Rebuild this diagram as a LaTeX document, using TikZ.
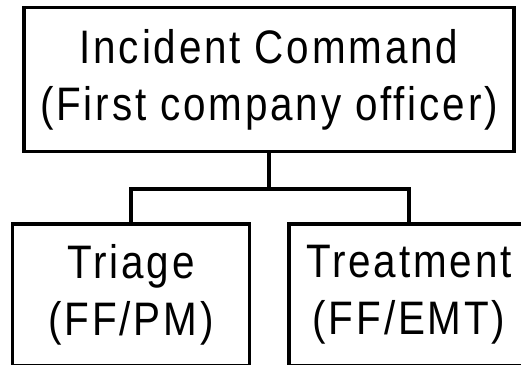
\documentclass[tikz,border=0pt]{standalone}
\usepackage{fontspec}
\setmainfont{Liberation Sans}[FakeStretch=0.86,LetterSpace=6]
\begin{document}
\begin{tikzpicture}[x=1pt,y=-1pt,
    unit/.style={draw=black,line width=3.5pt,align=center,inner sep=0pt,
      font=\fontsize{47}{57}\selectfont},
    link/.style={line width=4pt}]
  \useasboundingbox (0,0) rectangle (521,364);
  \clip (0,0) rectangle (521,364);
  \node[unit,minimum width=490pt,minimum height=144pt] (cmd) at (269,79.5)
    {Incident Command\\(First company officer)};
  \node[unit,minimum width=237pt,minimum height=142pt] (triage) at (131,295)
    {Triage\\(FF/PM)};
  \node[unit,minimum width=240pt,minimum height=142pt] (treat) at (409,295)
    {Treatment\\(FF/EMT)};
  \draw[link] (cmd.south) -- ++(0,36) coordinate (bus);
  \draw[link] (triage.north) |- (bus) -| (treat.north);
\end{tikzpicture}
\end{document}
